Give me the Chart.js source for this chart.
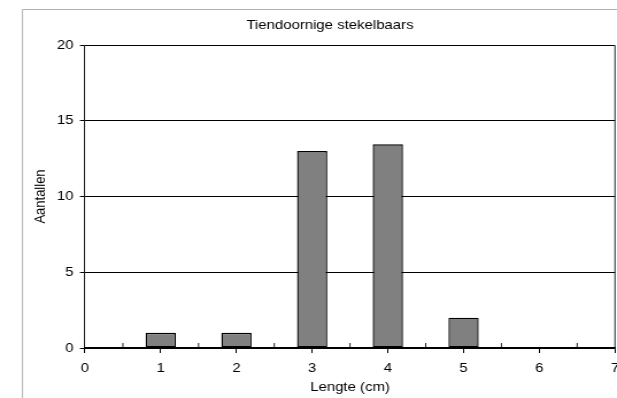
<!DOCTYPE html>
<html>
<head>
<meta charset="utf-8">
<script src="https://cdn.jsdelivr.net/npm/chart.js@4/dist/chart.umd.min.js"></script>
<style>
  html, body { margin: 0; padding: 0; background: #fff; overflow: hidden; }
  /* the original picture is stretched sideways, so draw narrower and stretch */
  #lengthChart { width: 617px; height: 398px; }
</style>
</head>
<body>
<canvas id="lengthChart" width="537" height="398" style="width:617px;height:398px"></canvas>
<script>
// Data
const lengths = [1, 2, 3, 4, 5];
const counts = [1, 1, 13, 13.45, 2];
const chartTitle = 'Tiendoornige stekelbaars';
const xTitle = 'Lengte (cm)';
const yTitle = 'Aantallen';
const xMin = 0, xMax = 7;
const yMin = 0, yMax = 20, yStep = 5;

const FONT = 'Arial, "Liberation Sans", sans-serif';
const FS = 13;
const S = 617 / 537; // horizontal stretch

// Outer frame, plot box and the small upward minor ticks on the x axis
const framePlugin = {
    id: 'frame',
    afterLayout(chart) {
        // the original title is centred on a frame wider than the picture
        chart.titleBlock.right = chart.titleBlock.left + 536;
    },
    afterDraw(chart) {
        const ctx = chart.ctx;
        const a = chart.chartArea;
        const x = chart.scales.x;
        ctx.save();
        ctx.strokeStyle = '#a6a6a6';
        ctx.lineWidth = 1 / S;
        ctx.beginPath();
        ctx.moveTo(22.5 / S, 500);
        ctx.lineTo(22.5 / S, 9.5);
        ctx.lineTo(700, 9.5);
        ctx.stroke();
        ctx.strokeStyle = '#000';
        ctx.beginPath();
        ctx.moveTo(a.right, a.top + 0.5);
        ctx.lineTo(a.right, a.bottom);
        ctx.stroke();
        ctx.beginPath();
        for (let v = xMin + 0.5; v < xMax; v += 1) {
            const px = x.getPixelForValue(v);
            ctx.moveTo(px, a.bottom);
            ctx.lineTo(px, a.bottom - 5);
        }
        ctx.stroke();
        ctx.restore();
    }
};

const ctx = document.getElementById('lengthChart').getContext('2d');
new Chart(ctx, {
    type: 'bar',
    data: {
        datasets: [{
            data: lengths.map((l, i) => ({ x: l, y: counts[i] })),
            backgroundColor: '#808080',
            borderColor: '#000',
            borderWidth: 1.4,
            borderSkipped: false,
            barPercentage: 0.4,
            categoryPercentage: 1
        }]
    },
    options: {
        responsive: false,
        animation: false,
        layout: { padding: { left: 22 / S, right: 2 / S, top: 10, bottom: 0 } },
        plugins: {
            legend: { display: false },
            tooltip: { enabled: false },
            title: {
                display: true,
                text: chartTitle,
                color: '#000',
                font: { family: FONT, size: FS, weight: 'normal' },
                padding: { top: 8, bottom: 11.4 }
            }
        },
        scales: {
            x: {
                type: 'linear',
                offset: false,
                min: xMin,
                max: xMax,
                ticks: {
                    stepSize: 1,
                    color: '#000',
                    padding: 8,
                    maxRotation: 0,
                    font: { family: FONT, size: FS }
                },
                grid: { display: true, offset: false, drawOnChartArea: false, color: '#000', tickLength: 5 },
                border: { color: '#000', width: 1.5 },
                title: {
                    display: true,
                    text: xTitle,
                    color: '#000',
                    font: { family: FONT, size: FS },
                    padding: { top: 0, bottom: 3 }
                },
                afterFit(s) {
                    s.height = 50;
                    s.paddingLeft = 0;
                    s.paddingRight = 0;
                }
            },
            y: {
                min: yMin,
                max: yMax,
                ticks: {
                    stepSize: yStep,
                    color: '#000',
                    padding: 5.5,
                    font: { family: FONT, size: FS }
                },
                grid: { color: '#000', tickLength: 4.4, lineWidth: 1 },
                border: { color: '#000', width: 1 / S },
                title: {
                    display: true,
                    text: yTitle,
                    color: '#000',
                    font: { family: FONT, size: FS },
                    padding: { top: 8.3, bottom: 0 }
                },
                afterFit(s) {
                    s.width = 63 / S;
                    s.paddingTop = 0;
                    s.paddingBottom = 0;
                }
            }
        }
    },
    plugins: [framePlugin]
});
</script>
</body>
</html>
